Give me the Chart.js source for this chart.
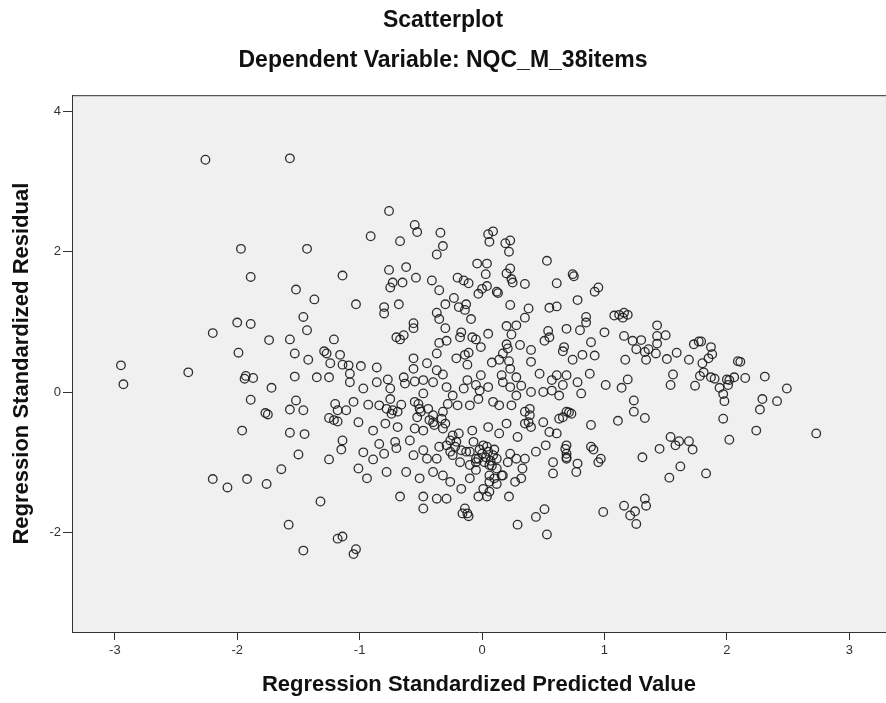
<!DOCTYPE html>
<html lang="en">
<head>
    <meta charset="UTF-8">
    <title>Scatterplot</title>
    <script src="https://cdn.jsdelivr.net/npm/chart.js"></script>
    <style>
        body {
            margin: 0;
            background: #ffffff;
            overflow: hidden;
        }
        #plot {
            display: block;
        }
    </style>
</head>
<body>
    <canvas id="plot" width="886" height="703"></canvas>

    <script>
        // Regression standardized predicted value (x) and residual (y)
        const predicted = [
            -2.26, -1.57, -1.97, -1.43, -1.89, -1.14, -1.52, -1.37, -1.46, -1.43,
            -2.00, -1.89, -2.20, -1.74, -1.57, -1.21, -1.99, -1.53, -1.42, -1.29,
            -1.27, -1.16, -1.24,
            -2.95, -2.93, -2.40, -1.93, -1.94, -1.87, -1.72, -1.53, -1.35, -1.25,
            -1.14, -1.89, -1.77, -1.75, -1.52, -1.57, -1.46, -1.20, -1.18,
            -1.25, -1.21, -1.18, -1.96, -1.57, -1.45, -1.14, -1.15, -1.50, -1.25,
            -1.64, -2.20, -2.08, -1.92, -1.76, -1.32, -1.58, -1.18, -1.14, -1.46,
            -1.03, -1.05,
            -0.76, -0.55, -0.53, -0.91, -0.67, -0.34, -0.32, -0.37, 0.05, 0.09,
            0.06, 0.19, 0.23, 0.22, 0.53, -0.76, -0.62, -0.73, -0.75, -0.65,
            -0.54, -0.41, -0.35, -0.20, -0.15, -0.11, -0.04, 0.04, 0.03, -0.03,
            0.00, 0.04, 0.12, 0.13, 0.23, 0.20, 0.24, 0.25, 0.35, 0.23,
            0.38, 0.61, 0.74, 0.75, 0.78, 0.92, 0.95, 0.55, 0.61, -1.03,
            -0.80, -0.80, -0.68, -0.56, -0.56, -0.70, -0.67, -0.64, -0.37, -0.35,
            -0.30, -0.30, -0.23, -0.19, -0.13, -0.14, -0.09, -0.17, -0.18, -0.08,
            -0.05, 0.05, -0.35, -0.29, -0.37, -0.56, -0.21, -0.14, -0.11, -0.01,
            0.20, 0.28, 0.24, 0.35, 0.20, 0.21, 0.17, 0.31, 0.40, 0.54,
            0.55, 0.51, 0.69, 0.80, 0.85, 0.85, 1.00, 0.89, 0.67, 0.66,
            0.82, 0.92, 0.74, -0.45, 0.08, 0.14, 0.22,
            0.40, 1.08,
            1.12, 1.16, 1.19, 1.15, 1.43, 1.16, 1.23, 1.30, 1.43, 1.50,
            1.43, 1.26, 1.33, 1.36, 1.42, 1.17, 1.34, 1.51, 1.59, 1.73,
            1.77, 1.79, 1.87, 1.88, 1.85, 1.69, 2.09, 2.11, 1.80,
            1.81, 1.19, 1.14, 1.56, 1.54, 1.74, 1.78, 1.87, 1.90, 2.00,
            2.02, 2.06, 1.94, 2.01, 2.15, 2.31, 2.49, 1.97, 1.98, 2.29,
            2.27, 2.41, 1.24, 1.24, 1.33, 1.11, 1.97, 2.24, 2.73, 2.02,
            1.54, 1.58, 1.61, 1.69, 1.72, 1.45, 1.31, 1.62, 1.53, 1.83,
            1.16, 1.21, 1.25, 1.26, 1.33, 1.34,
            -1.09, -1.08, -0.99, -0.86, -0.77, -0.63, -0.56, -0.55, -0.48,
            -0.37, -0.32, -0.29, -0.12, -0.12, -0.05, -0.02, 0.05, 0.16,
            0.23, 0.23, 0.28, 0.32, 0.40, 0.47, 0.57, 0.57, 0.63,
            0.66, 0.69, 0.78, 0.81, 0.88, 1.01, -1.05, -1.11, -0.93,
            -0.84, -0.75, -0.73, -0.66, -0.55, -0.51, -0.44, -0.40, -0.32, -0.28,
            -0.20, -0.10, -0.03, 0.09, 0.14, 0.24, 0.39, 0.39, 0.50, 0.55,
            0.61, 0.63, 0.69, 0.73, 0.89, -1.01, -0.89, -0.79, -0.69, -0.55,
            -0.48, -0.40, -0.32, -0.24, -0.19, -0.08, 0.05, 0.14, 0.20, 0.29,
            0.35, -0.97, -0.89, -0.84, -0.80, -0.71, -0.70, -0.59,
            -0.56, -0.48, -0.45, -0.37, -0.35, -0.29, -0.26, -0.21, -0.18, -0.13,
            -0.07, -0.05, -0.02, 0.00, 0.03, 0.05, 0.07, 0.09, 0.02, 0.10,
            0.12, -0.03, 0.04, 0.08, 0.23, 0.21, 0.28, 0.35, 0.33, 0.32,
            0.27, 0.44, 0.52, 0.58, 0.58, 0.69, 0.69, 0.77, 0.78, 0.89,
            0.91, 0.95, 0.97, -1.01, -0.94, -0.78, -0.62, -0.51, -0.40, -0.32,
            -0.26, -0.17, -0.10, 0.01, 0.06, 0.10, 0.17, 0.04, 0.06, -0.67,
            -0.48, -0.48, -0.37, -0.29, -0.03, 0.22, -0.14, -0.12, -0.16, -0.11,
            0.29, 0.44, 0.51, 0.53, 0.99,
            -0.52, -0.50, -0.53, -0.78, -0.74, -0.69, -0.43, -0.39, -0.33, -0.30,
            -0.26, -0.22, -0.17, -0.24, 0.35, 0.38, 0.40, 0.66, 0.71, 0.68,
            0.69, 0.69, -0.10, -0.05, 0.01, 0.06, 0.12, -0.10, -0.05, 0.06,
            0.12, 0.16, -1.08, -0.97, -0.86, -0.75, -0.64, -0.48, -0.40, -0.24,
            -0.15, -0.01, 0.17, 0.28, 0.50, 0.61
        ];
        const residual = [
            3.31, 3.33, 2.04, 2.04, 1.64, 1.66, 1.46, 1.32, 1.07, 0.88,
            0.99, 0.97, 0.84, 0.74, 0.75, 0.75, 0.56, 0.55, 0.46, 0.58,
            0.55, 0.53, 0.41,
            0.38, 0.11, 0.28, 0.23, 0.19, 0.20, 0.06, 0.22, 0.21, 0.21,
            0.39, -0.11, -0.30, -0.32, -0.12, -0.25, -0.26, -0.17, -0.26,
            -0.37, -0.40, -0.42, -0.55, -0.58, -0.60, -0.69, -0.82, -0.89, -0.96,
            -1.10, -1.24, -1.36, -1.24, -1.31, -1.56, -1.89, -2.09, -2.06, -2.26,
            -2.24, -2.31,
            2.58, 2.38, 2.28, 2.22, 2.15, 2.27, 2.08, 1.96, 2.25, 2.29,
            2.14, 2.12, 2.16, 2.00, 1.87, 1.74, 1.78, 1.56, 1.49, 1.56,
            1.63, 1.59, 1.45, 1.63, 1.59, 1.55, 1.83, 1.83, 1.68, 1.40,
            1.47, 1.51, 1.43, 1.41, 1.76, 1.69, 1.61, 1.56, 1.54, 1.24,
            1.19, 1.55, 1.68, 1.65, 1.31, 1.43, 1.49, 1.20, 1.22, 1.25,
            1.21, 1.12, 1.25, 0.98, 0.91, 0.78, 0.75, 0.81, 1.13, 1.04,
            0.91, 1.25, 1.34, 1.21, 1.25, 1.17, 1.04, 0.85, 0.78, 0.78,
            0.75, 0.83, 0.70, 0.73, 0.55, 0.48, 0.48, 0.53, 0.56, 0.64,
            0.94, 0.95, 0.82, 1.06, 0.68, 0.62, 0.55, 0.67, 0.60, 0.87,
            0.78, 0.73, 0.90, 0.88, 1.07, 0.99, 0.85, 0.71, 0.64, 0.58,
            0.53, 0.52, 0.46, 0.41, 0.42, 0.46, 0.44,
            0.43, 1.09,
            1.10, 1.13, 1.10, 1.06, 0.95, 0.80, 0.73, 0.74, 0.80, 0.81,
            0.69, 0.61, 0.57, 0.61, 0.55, 0.46, 0.46, 0.47, 0.56, 0.68,
            0.72, 0.72, 0.64, 0.54, 0.48, 0.46, 0.44, 0.43, 0.41,
            0.28, 0.18, 0.06, 0.25, 0.10, 0.09, 0.23, 0.21, 0.19, 0.18,
            0.17, 0.21, 0.06, 0.10, 0.20, 0.22, 0.05, -0.03, -0.13, -0.10,
            -0.25, -0.13, -0.12, -0.28, -0.37, -0.41, -0.38, -0.55, -0.59, -0.68,
            -0.64, -0.76, -0.70, -0.70, -0.82, -0.81, -0.93, -1.06, -1.22, -1.16,
            -1.62, -1.76, -1.70, -1.88, -1.52, -1.62,
            0.38, 0.26, 0.37, 0.35, 0.18, 0.12, 0.33, 0.15, 0.17,
            0.31, 0.25, 0.07, 0.17, 0.39, 0.10, 0.02, 0.07, 0.24,
            0.33, 0.07, 0.21, 0.09, 0.00, 0.26, 0.17, 0.02, -0.05,
            0.10, 0.24, 0.14, -0.02, 0.26, 0.10, -0.14, -0.26, -0.18,
            -0.19, -0.10, -0.26, -0.18, -0.14, -0.24, -0.24, -0.33, -0.28, -0.17,
            -0.19, -0.19, -0.10, -0.14, -0.19, -0.19, -0.24, -0.33, -0.43, -0.57,
            -0.59, -0.38, -0.28, -0.31, -0.47, -0.43, -0.55, -0.45, -0.50, -0.52,
            -0.55, -0.43, -0.52, -0.62, -0.59, -0.55, -0.50, -0.59, -0.45, -0.64,
            -0.45, -0.86, -0.96, -0.74, -0.88, -0.71, -0.80, -0.69,
            -0.90, -0.83, -0.95, -0.95, -0.78, -0.76, -0.85, -0.71, -1.00, -0.85,
            -0.71, -1.00, -0.82, -0.88, -0.93, -0.85, -0.98, -0.90, -1.00, -0.82,
            -0.95, -0.95, -0.78, -1.05, -0.88, -1.00, -0.95, -0.95, -1.09, -1.23,
            -1.28, -0.85, -0.76, -1.00, -1.16, -0.76, -0.93, -1.14, -1.02, -0.78,
            -0.82, -1.00, -0.95, -1.09, -1.23, -1.14, -1.14, -1.23, -1.14, -1.19,
            -1.28, -1.38, -1.23, -1.38, -1.28, -1.23, -1.19, -1.49, -1.42, -1.49,
            -1.49, -1.66, -1.52, -1.52, -1.49, -1.49, -1.66, -1.73, -1.73, -1.77,
            -1.89, -1.78, -1.67, -2.03, -1.71,
            -0.17, -0.28, -0.36, -0.24, -0.31, -0.28, -0.40, -0.47, -0.38, -0.45,
            -0.69, -0.78, -0.83, -0.90, -0.28, -0.43, -0.50, -0.36, -0.29, -0.81,
            -0.88, -0.95, -0.85, -0.95, -0.76, -1.04, -1.09, -1.04, -1.11, -1.19,
            -1.31, -1.19, 0.14, 0.05, 0.14, 0.05, 0.21, -0.02, 0.14, -0.05,
            0.05, 0.24, 0.14, -0.05, 0.00, 0.24
        ];

        const xTicks = [-3, -2, -1, 0, 1, 2, 3];
        const yTicks = [-2, 0, 2, 4];
        const xRange = [-3.35, 3.30];
        const yRange = [-3.42, 4.23];

        const points = predicted.map((x, i) => ({ x: x, y: residual[i] }));

        // grey plot background plus the top edge of the frame
        const plotFrame = {
            id: 'plotFrame',
            beforeDraw(chart) {
                const { ctx, chartArea: a } = chart;
                ctx.save();
                ctx.fillStyle = '#f0f0f0';
                ctx.fillRect(a.left, a.top, a.right - a.left, a.bottom - a.top);
                ctx.strokeStyle = '#333333';
                ctx.lineWidth = 1;
                ctx.beginPath();
                ctx.moveTo(a.left, a.top + 0.5);
                ctx.lineTo(a.right, a.top + 0.5);
                ctx.stroke();
                ctx.restore();
            }
        };

        const fontFamily = "'Liberation Sans', Arial, sans-serif";

        new Chart(document.getElementById('plot'), {
            type: 'scatter',
            data: {
                datasets: [{
                    data: points,
                    pointStyle: 'circle',
                    pointRadius: 4.3,
                    pointBorderWidth: 1.3,
                    pointBorderColor: 'rgba(25, 25, 25, 0.9)',
                    pointBackgroundColor: 'rgba(0, 0, 0, 0)'
                }]
            },
            options: {
                responsive: false,
                animation: false,
                layout: { padding: 0, autoPadding: false },
                plugins: {
                    legend: { display: false },
                    tooltip: { enabled: false },
                    title: {
                        display: true,
                        text: 'Scatterplot',
                        color: '#111111',
                        font: { family: fontFamily, size: 23, weight: 'bold' },
                        padding: { top: 7, bottom: 6 }
                    },
                    subtitle: {
                        display: true,
                        text: 'Dependent Variable: NQC_M_38items',
                        color: '#111111',
                        font: { family: fontFamily, size: 23, weight: 'bold' },
                        padding: { top: 6, bottom: 21 }
                    }
                },
                scales: {
                    x: {
                        type: 'linear',
                        min: xRange[0],
                        max: xRange[1],
                        afterBuildTicks: (scale) => { scale.ticks = xTicks.map(v => ({ value: v })); },
                        afterFit: (scale) => { scale.height = 71; },
                        grid: { drawOnChartArea: false, color: '#333333', tickLength: 8 },
                        border: { color: '#333333', width: 1 },
                        ticks: {
                            color: '#333333',
                            padding: 3,
                            maxRotation: 0,
                            font: { family: fontFamily, size: 13 }
                        },
                        title: {
                            display: true,
                            text: 'Regression Standardized Predicted Value',
                            color: '#111111',
                            font: { family: fontFamily, size: 22, weight: 'bold' },
                            padding: { top: 10, bottom: 5 }
                        }
                    },
                    y: {
                        type: 'linear',
                        min: yRange[0],
                        max: yRange[1],
                        afterBuildTicks: (scale) => { scale.ticks = yTicks.map(v => ({ value: v })); },
                        afterFit: (scale) => { scale.width = 72; },
                        grid: { drawOnChartArea: false, color: '#333333', tickLength: 9 },
                        border: { color: '#333333', width: 1 },
                        ticks: {
                            color: '#333333',
                            padding: 2,
                            font: { family: fontFamily, size: 13 }
                        },
                        title: {
                            display: true,
                            text: 'Regression Standardized Residual',
                            color: '#111111',
                            font: { family: fontFamily, size: 22, weight: 'bold' },
                            padding: { top: 9, bottom: 4 }
                        }
                    }
                }
            },
            plugins: [plotFrame]
        });
    </script>
</body>
</html>
